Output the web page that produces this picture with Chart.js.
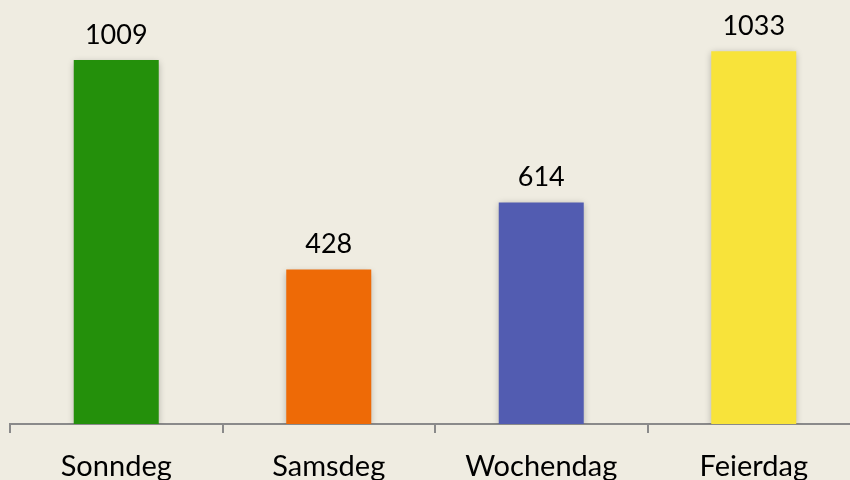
<!DOCTYPE html>
<html>
<head>
<meta charset="utf-8">
<script src="https://cdn.jsdelivr.net/npm/chart.js@4/dist/chart.umd.min.js"></script>
<style>
html,body{margin:0;padding:0;background:#efece1;overflow:hidden;width:850px;height:480px;}
#wrap{position:absolute;left:0;top:0;width:870px;height:480px;}
</style>
</head>
<body>
<div id="wrap"><canvas id="c" width="870" height="480"></canvas></div>
<script>
const categories = ['Sonndeg', 'Samsdeg', 'Wochendag', 'Feierdag'];
const values = [1009, 428, 614, 1033];
const barColors = ['#24900b', '#ee6a06', '#525cb1', '#f8e33a'];

const shadowPlugin = {
  id: 'barShadow',
  beforeDatasetsDraw(chart) {
    const ctx = chart.ctx;
    ctx.save();
    ctx.shadowColor = 'rgba(0,0,0,0.28)';
    ctx.shadowBlur = 7;
    ctx.shadowOffsetX = 0;
    ctx.shadowOffsetY = 2;
  },
  afterDatasetsDraw(chart) {
    chart.ctx.restore();
  }
};

const labelPlugin = {
  id: 'valueLabels',
  afterDraw(chart) {
    const ctx = chart.ctx;
    const meta = chart.getDatasetMeta(0);
    ctx.save();
    ctx.fillStyle = '#000';
    ctx.font = '27px Lato, "Open Sans", sans-serif';
    ctx.textAlign = 'center';
    ctx.textBaseline = 'middle';
    meta.data.forEach((bar, i) => {
      ctx.fillText(String(chart.data.datasets[0].data[i]), bar.x, bar.y - 25);
    });
    ctx.restore();
  }
};

new Chart(document.getElementById('c'), {
  type: 'bar',
  data: {
    labels: categories,
    datasets: [{
      data: values,
      backgroundColor: barColors,
      borderWidth: 0,
      barPercentage: 0.4,
      categoryPercentage: 1.0
    }]
  },
  options: {
    responsive: false,
    animation: false,
    devicePixelRatio: 1,
    layout: { padding: { left: 10, right: 10, top: 0, bottom: 0 } },
    plugins: { legend: { display: false }, tooltip: { enabled: false } },
    scales: {
      x: {
        afterFit(s) { s.height = 56; },
        border: { display: true, color: '#8a8a8a', width: 2 },
        grid: { display: true, drawOnChartArea: false, drawTicks: true, tickLength: 9, color: '#8a8a8a', lineWidth: 2, offset: true },
        ticks: { color: '#000', padding: 16, font: { family: 'Lato, "Open Sans", sans-serif', size: 29 } }
      },
      y: {
        display: false,
        min: 0,
        max: 1175
      }
    }
  },
  plugins: [shadowPlugin, labelPlugin]
});
</script>
</body>
</html>
